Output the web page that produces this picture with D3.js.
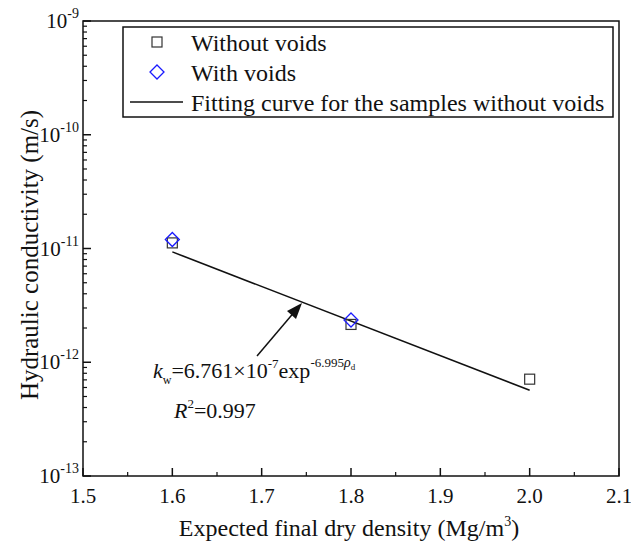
<!DOCTYPE html>
<html>
<head>
<meta charset="utf-8">
<title>Hydraulic conductivity</title>
<script src="https://d3js.org/d3.v7.min.js"></script>
<style>
  body { margin: 0; background: #fff; }
  text { font-family: "Liberation Serif", "Times New Roman", serif; fill: #111; }
</style>
</head>
<body>
<div id="chart"></div>
<script>
// data
var densNoVoid = [1.6, 1.8, 2.0];
var kNoVoid = [1.12e-11, 2.15e-12, 7.1e-13];
var densVoid = [1.6, 1.8];
var kVoid = [1.2e-11, 2.35e-12];
// ends of the fitting curve (straight on a log axis)
var fitDens = [1.6, 2.0];
var fitK = [9.34e-12, 5.67e-13];
var xTicks = [1.5, 1.6, 1.7, 1.8, 1.9, 2.0, 2.1];
var yExps = [-9, -10, -11, -12, -13];

var width = 631, height = 546;
var margin = {top: 21, right: 12, bottom: 70, left: 83};

var svg = d3.select("#chart").append("svg")
    .attr("width", width).attr("height", height);

var x = d3.scaleLinear().domain([1.5, 2.1]).range([margin.left, width - margin.right]);
var y = d3.scaleLog().domain([1e-13, 1e-9]).range([height - margin.bottom, margin.top]);

var x0 = margin.left, x1 = width - margin.right, y0 = height - margin.bottom, y1 = margin.top;

// x ticks (inward)
var xMinor = d3.range(1.55, 2.1, 0.1);
svg.append("g").selectAll("line").data(xTicks).enter().append("line")
    .attr("x1", d => x(d)).attr("x2", d => x(d))
    .attr("y1", y0).attr("y2", y0 - 8)
    .attr("stroke", "#111").attr("stroke-width", 1.5);
svg.append("g").selectAll("line").data(xMinor).enter().append("line")
    .attr("x1", d => x(d)).attr("x2", d => x(d))
    .attr("y1", y0).attr("y2", y0 - 4)
    .attr("stroke", "#111").attr("stroke-width", 1.2);
svg.append("g").selectAll("text").data(xTicks).enter().append("text")
    .attr("x", d => x(d)).attr("y", y0 + 27)
    .attr("text-anchor", "middle").style("font-size", "21px")
    .text(d => d.toFixed(1));

// y ticks (inward, log minors)
var yMinor = [];
[-13, -12, -11, -10].forEach(function(e) {
  for (var m = 2; m <= 9; m++) yMinor.push(m * Math.pow(10, e));
});
svg.append("g").selectAll("line").data(yExps).enter().append("line")
    .attr("x1", x0).attr("x2", x0 + 8)
    .attr("y1", d => y(Math.pow(10, d))).attr("y2", d => y(Math.pow(10, d)))
    .attr("stroke", "#111").attr("stroke-width", 1.5);
svg.append("g").selectAll("line").data(yMinor).enter().append("line")
    .attr("x1", x0).attr("x2", x0 + 4)
    .attr("y1", d => y(d)).attr("y2", d => y(d))
    .attr("stroke", "#111").attr("stroke-width", 1.2);
var yl = svg.append("g").selectAll("text").data(yExps).enter().append("text")
    .attr("x", x0 - 4).attr("y", d => y(Math.pow(10, d)) + 7)
    .attr("text-anchor", "end").style("font-size", "21px");
yl.append("tspan").text("10");
yl.append("tspan").attr("dy", -10).style("font-size", "14px").text(d => "-" + Math.abs(d));

// frame
svg.append("rect")
    .attr("x", x0).attr("y", y1).attr("width", x1 - x0).attr("height", y0 - y1)
    .attr("fill", "none").attr("stroke", "#111").attr("stroke-width", 1.5);

// axis titles
var xt = svg.append("text")
    .attr("x", (x0 + x1) / 2 - 2).attr("y", 536)
    .attr("text-anchor", "middle").style("font-size", "24px");
xt.append("tspan").text("Expected final dry density (Mg/m");
xt.append("tspan").attr("dy", -10).style("font-size", "14px").text("3");
xt.append("tspan").attr("dy", 10).text(")");

svg.append("text")
    .attr("transform", "translate(38,255) rotate(-90)")
    .attr("text-anchor", "middle").style("font-size", "25px")
    .text("Hydraulic conductivity (m/s)");

// fitting line
var line = d3.line().x(d => x(d[0])).y(d => y(d[1]));
svg.append("path")
    .datum(fitDens.map((d, i) => [d, fitK[i]]))
    .attr("d", line).attr("fill", "none")
    .attr("stroke", "#111").attr("stroke-width", 1.6);

// markers
svg.append("g").selectAll("rect").data(densNoVoid.map((d, i) => [d, kNoVoid[i]])).enter()
  .append("rect")
    .attr("x", d => x(d[0]) - 5).attr("y", d => y(d[1]) - 5)
    .attr("width", 10).attr("height", 10)
    .attr("fill", "none").attr("stroke", "#333").attr("stroke-width", 1.2);
svg.append("g").selectAll("path").data(densVoid.map((d, i) => [d, kVoid[i]])).enter()
  .append("path")
    .attr("d", d => {
      var cx = x(d[0]), cy = y(d[1]), r = 7;
      return "M" + cx + "," + (cy - r) + "L" + (cx + r) + "," + cy + "L" + cx + "," + (cy + r) + "L" + (cx - r) + "," + cy + "Z";
    })
    .attr("fill", "none").attr("stroke", "#1a1aff").attr("stroke-width", 1.3);

// arrow annotation
svg.append("line")
    .attr("x1", 257).attr("y1", 356).attr("x2", 296).attr("y2", 310)
    .attr("stroke", "#111").attr("stroke-width", 1.5);
svg.append("path")
    .attr("d", "M302,303 L287,311 L296,319 Z").attr("fill", "#111");

var eq = svg.append("text").attr("x", 153).attr("y", 378).style("font-size", "22px");
eq.append("tspan").style("font-style", "italic").text("k");
eq.append("tspan").attr("dy", 6).style("font-size", "12px").text("w");
eq.append("tspan").attr("dy", -6).text("=6.761\u00d710");
eq.append("tspan").attr("dy", -10).style("font-size", "13px").text("-7");
eq.append("tspan").attr("dy", 10).text("exp");
eq.append("tspan").attr("dy", -11).style("font-size", "13px").text("-6.995");
eq.append("tspan").style("font-size", "14px").style("font-style", "italic").text("\u03c1");
eq.append("tspan").attr("dy", 3).style("font-size", "9px").text("d");

var r2 = svg.append("text").attr("x", 174).attr("y", 418).style("font-size", "22px");
r2.append("tspan").style("font-style", "italic").text("R");
r2.append("tspan").attr("dy", -10).style("font-size", "13px").text("2");
r2.append("tspan").attr("dy", 10).text("=0.997");

// legend
var lg = svg.append("g");
lg.append("rect").attr("x", 123).attr("y", 27).attr("width", 490).attr("height", 90)
    .attr("fill", "#fff").attr("stroke", "#111").attr("stroke-width", 1.5);
lg.append("rect").attr("x", 152).attr("y", 37).attr("width", 10).attr("height", 10)
    .attr("fill", "none").attr("stroke", "#333").attr("stroke-width", 1.2);
lg.append("path").attr("d", "M157,65L164,72L157,79L150,72Z")
    .attr("fill", "none").attr("stroke", "#1a1aff").attr("stroke-width", 1.3);
lg.append("line").attr("x1", 130).attr("x2", 183).attr("y1", 102).attr("y2", 102)
    .attr("stroke", "#111").attr("stroke-width", 1.6);
var legTxt = ["Without voids", "With voids", "Fitting curve for the samples without voids"];
lg.selectAll("text.l").data(legTxt).enter().append("text")
    .attr("x", 191).attr("y", (d, i) => 51 + i * 30)
    .style("font-size", "24px").text(d => d);
</script>
</body>
</html>
